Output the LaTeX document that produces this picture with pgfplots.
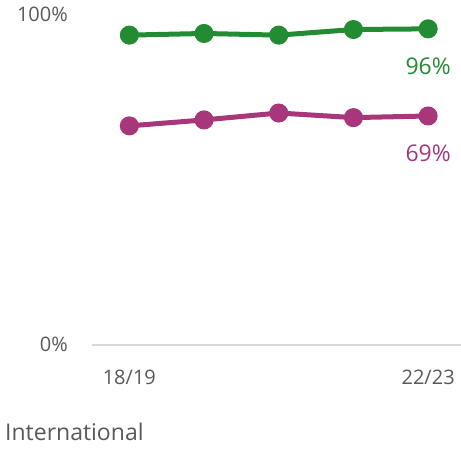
\documentclass[border=0pt]{standalone}
\usepackage{fontspec}
\setmainfont{Open Sans}
\usepackage{pgfplots}
\pgfplotsset{compat=1.18}
\definecolor{cgreen}{HTML}{238B32}
\definecolor{cmag}{HTML}{A8367A}
\definecolor{txt}{HTML}{595959}
\definecolor{base}{HTML}{D9D9D9}
\begin{document}
\begin{tikzpicture}[x=1pt,y=1pt]
\path[use as bounding box] (0,0) rectangle (461,449);
\begin{axis}[
  at={(92pt,104pt)}, anchor=south west,
  scale only axis, width=369pt, height=330pt,
  xmin=-0.5, xmax=4.44, ymin=0, ymax=100,
  clip=false,
  axis x line=bottom, axis y line=left,
  x axis line style={draw=base, line width=1.5pt, -},
  y axis line style={draw=none},
  major tick length=0pt,
  xtick={0,4}, xticklabels={18/19,22/23},
  ytick={0,100}, yticklabels={0\%,100\%},
  /pgf/number format/assume math mode=true,
  every tick label/.append style={font=\fontsize{20}{24}\selectfont, text=txt, inner sep=0pt},
  xticklabel style={anchor=base, yshift=-40pt},
  yticklabel style={anchor=base east, xshift=-24pt, yshift=-7pt},
]
\addplot[cgreen, line width=5pt, mark=*, mark size=7pt, mark options={solid}] coordinates {
  (0,93.9) (1,94.4) (2,93.9) (3,95.6) (4,95.8)};
\addplot[cmag, line width=5pt, mark=*, mark size=7pt, mark options={solid}] coordinates {
  (0,66.4) (1,68.2) (2,70.3) (3,68.9) (4,69.4)};
\node[anchor=base, text=cgreen, font=\fontsize{23}{28}\selectfont, inner sep=0pt] at (axis cs:4,95.8) [yshift=-46pt] {96\%};
\node[anchor=base, text=cmag, font=\fontsize{23}{28}\selectfont, inner sep=0pt] at (axis cs:4,69.4) [yshift=-46pt] {69\%};
\end{axis}
\node[anchor=base west, text=txt, font=\fontsize{23}{27}\selectfont, inner sep=0pt] at (5,8) {International};
\end{tikzpicture}
\end{document}
